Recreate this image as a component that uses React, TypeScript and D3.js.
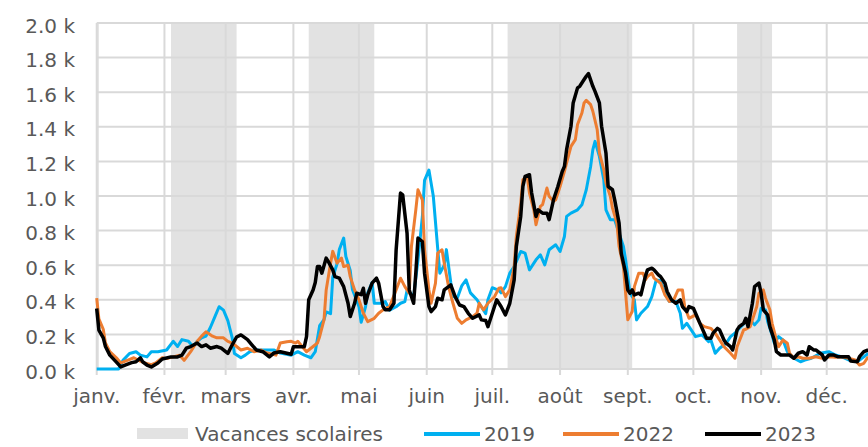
import React from 'react';
import * as d3 from 'd3';

const W = 868;
const H = 447;
const margin = { top: 23, left: 96.7, bottom: 369 };

const monthLabels = ['janv.', 'févr.', 'mars', 'avr.', 'mai', 'juin', 'juil.', 'août', 'sept.', 'oct.', 'nov.', 'déc.'];
const yTicks = [0, 200, 400, 600, 800, 1000, 1200, 1400, 1600, 1800, 2000];

// vacances scolaires [start, end) as day of year
const holidays: [number, number][] = [
  [0, 1.5],
  [34, 64],
  [97, 127],
  [188, 245],
  [293, 309],
  [356, 365],
];

// [day of year, value]
const s2019: [number, number][] = [
  [0, 0], [10, 0], [12, 50], [15, 90], [18, 100], [20, 80], [23, 70], [25, 100], [28, 100], [32, 110],
  [35, 160], [37, 130], [39, 170], [42, 160], [44, 130], [46, 160], [48, 180], [50, 190], [52, 240],
  [54, 300], [56, 360], [58, 340], [60, 280], [62, 180], [63, 90], [66, 65], [68, 80], [70, 100],
  [73, 110], [76, 110], [81, 110], [84, 92], [89, 80], [92, 100], [95, 80], [98, 65], [100, 100],
  [102, 250], [104, 285], [105, 330], [107, 320], [108, 530], [110, 610], [111, 690], [113, 757],
  [114, 650], [116, 570], [117, 460], [120, 360], [121, 270], [123, 360], [124, 440], [126, 500],
  [127, 380], [130, 380], [132, 390], [134, 340], [137, 360], [139, 380], [141, 390], [142, 455],
  [145, 420], [147, 630], [149, 880], [150, 1090], [152, 1150], [154, 1000], [156, 700], [157, 554],
  [159, 600], [160, 690], [162, 500], [163, 420], [165, 410], [167, 480], [169, 515], [171, 440],
  [174, 400], [176, 360], [178, 320], [179, 400], [181, 470], [184, 455], [185, 440], [187, 476],
  [189, 554], [191, 592], [194, 679], [196, 670], [198, 573], [201, 631], [203, 660], [205, 602],
  [207, 689], [210, 718], [212, 679], [214, 766], [215, 882], [217, 901], [220, 920], [222, 949],
  [224, 1036], [226, 1171], [227, 1268], [228, 1316], [230, 1229], [232, 1094], [233, 920], [235, 863],
  [237, 863], [239, 785], [241, 708], [242, 631], [244, 438], [246, 400], [247, 284], [249, 322],
  [252, 361], [254, 418], [256, 515], [258, 510], [260, 438], [262, 390], [265, 390], [267, 322],
  [268, 235], [270, 264], [272, 226], [274, 187], [277, 197], [280, 158], [281, 168], [283, 91],
  [285, 120], [288, 149], [290, 187], [292, 207], [294, 235], [297, 274], [299, 284], [301, 255],
  [303, 284], [304, 351], [306, 342], [307, 274], [309, 197], [310, 149], [312, 187], [314, 168],
  [316, 100], [319, 62], [322, 42], [324, 52], [327, 62], [331, 91], [335, 100], [338, 81], [341, 70],
  [344, 52], [348, 42], [351, 70], [353, 91],
];

const s2022: [number, number][] = [
  [0, 410], [1, 290], [3, 230], [4, 150], [6, 100], [9, 65], [11, 35], [14, 50], [17, 65], [20, 45],
  [22, 35], [25, 25], [27, 35], [30, 65], [32, 60], [35, 70], [38, 80], [40, 50], [43, 100], [46, 160],
  [48, 190], [50, 215], [53, 190], [55, 180], [58, 180], [60, 160], [62, 150], [64, 130], [66, 110],
  [69, 120], [72, 100], [75, 110], [78, 92], [82, 80], [84, 150], [87, 158], [89, 160], [91, 150],
  [92, 160], [94, 130], [96, 100], [98, 120], [99, 130], [101, 150], [102, 187], [104, 284], [105, 457],
  [107, 612], [108, 680], [110, 612], [112, 641], [113, 592], [115, 600], [116, 534], [118, 457],
  [120, 400], [122, 322], [124, 274], [127, 293], [129, 322], [131, 342], [134, 361], [137, 457],
  [139, 525], [141, 476], [143, 438], [144, 708], [146, 920], [147, 1036], [149, 978], [150, 689],
  [152, 457], [153, 380], [155, 496], [156, 670], [158, 689], [159, 612], [161, 476], [163, 380],
  [165, 293], [167, 264], [169, 284], [172, 303], [174, 322], [175, 380], [177, 342], [179, 380],
  [182, 418], [184, 467], [185, 470], [187, 418], [189, 457], [191, 592], [192, 766], [194, 959],
  [195, 1094], [197, 1113], [198, 1017], [200, 920], [201, 834], [203, 940], [204, 950], [206, 1046],
  [207, 998], [209, 969], [210, 978], [212, 1055], [214, 1142], [215, 1191], [217, 1287], [219, 1326],
  [220, 1413], [222, 1480], [223, 1538], [224, 1553], [226, 1528], [227, 1490], [229, 1384], [230, 1249],
  [232, 1152], [233, 1075], [235, 998], [236, 930], [238, 843], [239, 708], [241, 592], [242, 438],
  [243, 284], [245, 332], [246, 476], [248, 554], [250, 554], [251, 515], [252, 534], [254, 554],
  [255, 525], [258, 496], [260, 428], [262, 390], [264, 400], [266, 457], [268, 457], [269, 361],
  [271, 293], [274, 313], [276, 264], [278, 245], [281, 235], [283, 207], [285, 168], [287, 129],
  [290, 91], [292, 62], [293, 129], [296, 226], [297, 230], [299, 245], [300, 284], [302, 361],
  [303, 438], [305, 457], [306, 409], [308, 342], [309, 264], [311, 168], [312, 129], [314, 168],
  [316, 149], [317, 91], [319, 62], [321, 71], [323, 62], [326, 62], [329, 71], [332, 62], [335, 71],
  [338, 68], [341, 71], [344, 62], [347, 52], [349, 23], [351, 33], [353, 71],
];

const s2023: [number, number][] = [
  [0, 350], [1, 225], [3, 180], [4, 130], [6, 80], [9, 40], [11, 12], [13, 23], [16, 37], [18, 42],
  [20, 64], [21, 42], [23, 23], [25, 12], [28, 35], [30, 58], [34, 70], [37, 70], [39, 80], [41, 120],
  [43, 130], [46, 150], [48, 130], [50, 140], [52, 120], [55, 130], [57, 120], [60, 90], [62, 140],
  [64, 185], [66, 197], [69, 170], [71, 140], [73, 110], [76, 100], [79, 70], [81, 92], [84, 100],
  [87, 91], [89, 85], [90, 129], [92, 129], [95, 129], [96, 187], [97, 400], [99, 457], [100, 500],
  [101, 592], [102, 592], [103, 554], [105, 641], [106, 621], [108, 573], [109, 534], [111, 525],
  [113, 476], [115, 380], [116, 303], [118, 380], [119, 438], [121, 430], [122, 467], [123, 380],
  [124, 428], [126, 496], [128, 525], [129, 496], [131, 361], [132, 342], [134, 342], [136, 380],
  [137, 689], [139, 1017], [140, 1007], [142, 785], [143, 457], [145, 380], [146, 554], [147, 757],
  [149, 737], [150, 554], [152, 361], [153, 332], [155, 361], [156, 409], [158, 400], [159, 457],
  [161, 476], [162, 486], [164, 418], [166, 370], [168, 361], [170, 322], [172, 293], [175, 313],
  [176, 284], [178, 280], [179, 245], [181, 322], [183, 400], [185, 361], [187, 313], [189, 380],
  [191, 515], [192, 708], [194, 882], [195, 1055], [196, 1113], [198, 1123], [199, 1017], [201, 882],
  [202, 920], [204, 901], [206, 901], [207, 863], [209, 978], [211, 1055], [213, 1142], [214, 1171],
  [215, 1268], [217, 1403], [218, 1538], [220, 1625], [221, 1634], [223, 1673], [224, 1692], [225, 1708],
  [227, 1634], [228, 1605], [230, 1538], [231, 1403], [233, 1249], [234, 1055], [236, 1036], [237, 978],
  [239, 843], [240, 670], [242, 554], [243, 457], [244, 438], [245, 457], [246, 428], [248, 438],
  [249, 428], [251, 534], [252, 573], [254, 583], [255, 573], [257, 544], [258, 534], [260, 496],
  [261, 448], [263, 400], [265, 380], [267, 400], [268, 361], [270, 332], [271, 361], [273, 351],
  [274, 322], [276, 264], [278, 207], [279, 178], [281, 178], [282, 207], [284, 235], [285, 226],
  [287, 168], [288, 149], [290, 129], [291, 110], [293, 226], [294, 245], [296, 264], [297, 293],
  [298, 245], [300, 380], [301, 476], [303, 496], [304, 438], [305, 342], [307, 313], [308, 245],
  [310, 168], [311, 100], [313, 81], [315, 81], [317, 81], [319, 62], [321, 91], [323, 100], [325, 81],
  [326, 129], [328, 110], [329, 110], [332, 81], [333, 52], [335, 81], [337, 81], [339, 71], [341, 71],
  [344, 71], [345, 46], [348, 42], [349, 71], [351, 100], [353, 110],
];

const series = [
  { name: '2019', data: s2019, color: '#00B0F0', width: 3 },
  { name: '2022', data: s2022, color: '#ED7D31', width: 3 },
  { name: '2023', data: s2023, color: '#000000', width: 3.5 },
];

const jan1 = new Date(2023, 0, 1);
const toDate = (d: number) => d3.timeDay.offset(jan1, d);

export default function App() {
  const x = d3
    .scaleTime()
    .domain([jan1, new Date(2023, 11, 1)])
    .range([margin.left, 826.7]);
  const y = d3.scaleLinear().domain([0, 2000]).range([margin.bottom, margin.top]);

  const months = d3.timeMonth.range(jan1, new Date(2024, 0, 1));
  const line = d3
    .line<[number, number]>()
    .x((d) => x(toDate(d[0])))
    .y((d) => y(d[1]));

  const font = { fontFamily: 'DejaVu Sans', fontSize: 20, fill: '#595959' };
  const legendY = 434;

  return (
    <svg
      width={W}
      height={H}
      style={{ position: 'absolute', left: 0, top: 0, background: '#fff' }}
    >
      {/* holiday bands */}
      {holidays.map(([a, b], i) => (
        <rect
          key={i}
          x={x(toDate(a))}
          y={y(2000)}
          width={x(toDate(b)) - x(toDate(a))}
          height={y(0) - y(2000)}
          fill="#e2e2e2"
        />
      ))}

      {/* grid */}
      {yTicks.map((t) => (
        <line key={t} x1={margin.left} x2={W} y1={y(t)} y2={y(t)} stroke="#d9d9d9" strokeWidth={2} />
      ))}
      {months.map((m, i) => (
        <line key={i} x1={x(m)} x2={x(m)} y1={y(2000)} y2={y(0) + 6} stroke="#d9d9d9" strokeWidth={2} />
      ))}

      {/* y labels */}
      {yTicks.map((t) => (
        <text key={t} x={75} y={y(t) + 9.5} textAnchor="end" style={font}>
          {(t / 1000).toFixed(1)} k
        </text>
      ))}

      {/* x labels */}
      {months.map((m, i) => (
        <text key={i} x={x(m)} y={403} textAnchor="middle" style={font}>
          {monthLabels[i]}
        </text>
      ))}

      {/* series */}
      {series.map((s) => (
        <path
          key={s.name}
          d={line(s.data) ?? ''}
          fill="none"
          stroke={s.color}
          strokeWidth={s.width}
          strokeLinejoin="round"
        />
      ))}

      {/* legend */}
      <rect x={137} y={legendY - 6} width={51} height={11} fill="#e2e2e2" />
      <text x={195} y={legendY} dominantBaseline="central" style={font}>Vacances scolaires</text>
      {series.map((s, i) => {
        const lx = [424, 563, 705][i];
        return (
          <g key={s.name}>
            <line x1={lx} x2={lx + 56} y1={legendY} y2={legendY} stroke={s.color} strokeWidth={4} />
            <text x={lx + 60} y={legendY} dominantBaseline="central" style={font}>{s.name}</text>
          </g>
        );
      })}
    </svg>
  );
}
